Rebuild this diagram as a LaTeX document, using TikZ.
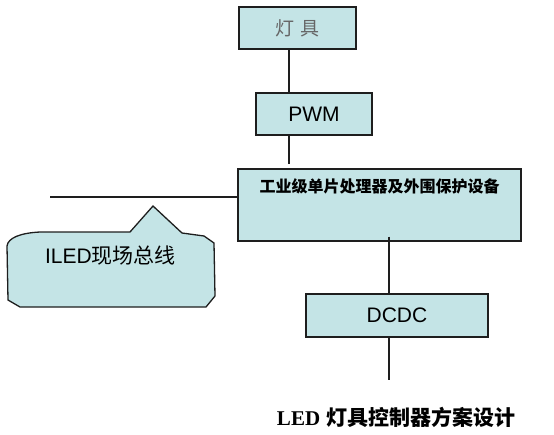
\documentclass[tikz,border=0pt]{standalone}
\usepackage{fontspec}
\setmainfont{Liberation Sans}
\newfontfamily\cjk{Noto Sans CJK SC}
\newfontfamily\capserif{Liberation Serif}
\usetikzlibrary{positioning}

\definecolor{boxcyan}{RGB}{196,228,230}
\definecolor{edgegray}{RGB}{30,30,30}

\tikzset{
  blockbox/.style={draw=edgegray, fill=boxcyan, line width=1.3pt, inner sep=0pt},
  wire/.style={draw=edgegray, line width=1.2pt}
}

\begin{document}
\begin{tikzpicture}[x=1pt,y=-1pt]
        \useasboundingbox (0,0) rectangle (554,434);

        % boxes
        \node[blockbox, minimum width=117, minimum height=42] (lamp) at (297.5,28)
            {\fontsize{19}{19}\selectfont\cjk\color{black!60}灯\hspace{7pt}具};
        \node[blockbox, minimum width=116, minimum height=42] (pwm) at (314,114)
            {\fontsize{21}{21}\selectfont PWM};
        \node[blockbox, minimum width=283, minimum height=72] (mcu) at (379.5,205) {};
        \node[below=7pt of mcu.north] (mcutext)
            {\fontsize{16}{17}\selectfont\cjk\bfseries 工业级单片处理器及外围保护设备};
        \node[blockbox, minimum width=182, minimum height=43] (dcdc) at (397,315.5)
            {\fontsize{21}{21}\selectfont DCDC};

        % callout
        \draw[blockbox] (7,246) .. controls (8,238) and (20,233) .. (40,232)
            -- (130,232) -- (153,206) -- (182,233) -- (204,236) -- (214,243)
            -- (215,296) -- (206,307) -- (20,307) -- (8,300) -- cycle;
        \node (busname) at (110.5,256) {\fontsize{21}{21}\selectfont ILED\cjk 现场总线};

        % connectors
        \coordinate (busend) at (50,197);
        \coordinate (drop) at ([xshift=-8]dcdc.north);
        \coordinate (tail) at (389,380);

        \draw[wire] ([xshift=-8.5]lamp.south) -- ([xshift=-8.5]lamp.south |- pwm.north);
        \draw[wire, shorten >=4pt] ([xshift=-25]pwm.south) -- ([xshift=-25]pwm.south |- mcu.north);
        \draw[wire] (busend) -- (busend -| mcu.west);
        \draw[wire, shorten <=-5pt] (drop |- mcu.south) -- (drop);
        \draw[wire] (drop |- dcdc.south) -- (tail);

        % caption
        \node (title) at (396,417)
            {\fontsize{21}{21}\selectfont\bfseries{\capserif LED} \cjk 灯具控制器方案设计};
\end{tikzpicture}
\end{document}
